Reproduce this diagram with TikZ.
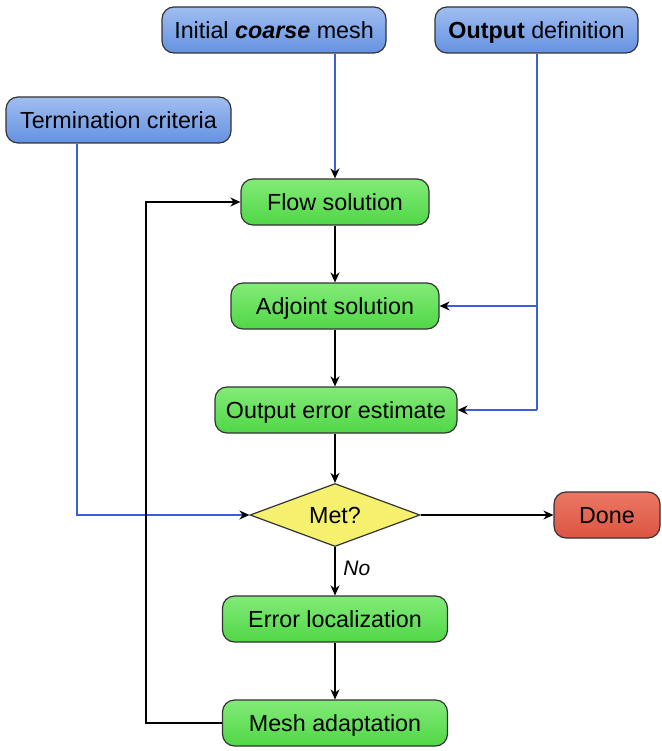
\documentclass[tikz,border=0pt]{standalone}
\usepackage{fontspec}
\setmainfont{Liberation Sans}
\usetikzlibrary{arrows.meta,shapes.geometric}
\definecolor{bluetop}{RGB}{160,190,240}
\definecolor{bluebot}{RGB}{100,145,225}
\definecolor{greentop}{RGB}{130,235,120}
\definecolor{greenbot}{RGB}{80,215,70}
\definecolor{redtop}{RGB}{235,120,100}
\definecolor{redbot}{RGB}{220,85,65}
\definecolor{yelfill}{RGB}{245,240,110}
\definecolor{bline}{RGB}{60,95,215}
\tikzset{
  box/.style={draw=black!80, line width=1.2pt, rounded corners=12pt, minimum height=46pt,
    inner sep=0pt, text height=21pt, text depth=4pt, font=\fontsize{23.3}{27}\selectfont, text=black},
  inbox/.style={box, top color=bluetop, bottom color=bluebot},
  procbox/.style={box, top color=greentop, bottom color=greenbot},
  endbox/.style={box, top color=redtop, bottom color=redbot},
  decbox/.style={diamond, draw=black!80, line width=1.2pt, fill=yelfill, minimum width=170pt,
    minimum height=63pt, inner sep=0pt, aspect=2.7, font=\fontsize{23.3}{27}\selectfont},
  flow/.style={draw=black, line width=2pt, -{Stealth[length=10pt,width=9pt]}},
  bflow/.style={draw=bline, line width=2pt, -{Stealth[length=10pt,width=9pt,color=black]}},
  bline/.style={draw=bline, line width=2pt},
}
\begin{document}
\begin{tikzpicture}[x=1pt,y=-1pt]
\useasboundingbox (0,0) rectangle (661,751);
\node[inbox, minimum width=224pt] (init) at (274,30) {Initial \textbf{\textit{coarse}} mesh};
\node[inbox, minimum width=203pt] (outdef) at (536.5,30) {\textbf{Output} definition};
\node[inbox, minimum width=225pt] (term) at (118.5,120) {Termination criteria};
\node[procbox, minimum width=188pt] (flowsol) at (335,202) {Flow solution};
\node[procbox, minimum width=208pt] (adj) at (335,306) {Adjoint solution};
\node[procbox, minimum width=242pt] (err) at (336,410) {Output error estimate};
\node[decbox] (met) at (335,515) {Met?};
\node[endbox, minimum width=106pt] (done) at (607,515) {Done};
\node[procbox, minimum width=225pt] (loc) at (335,619) {Error localization};
\node[procbox, minimum width=225pt] (adapt) at (335,723) {Mesh adaptation};

\coordinate (c1) at (536.5,306);
\coordinate (c2) at (536.5,410);
\coordinate (t1) at (77,515);
\coordinate (m1) at (146,723);
\coordinate (m2) at (146,202);

\draw[bflow] (init.south -| flowsol.north) -- (flowsol.north);
\draw[bline] (outdef.south) -- (c2);
\draw[bflow] (c1) -- (adj.east);
\draw[bflow] (c2) -- (err.east);
\draw[bflow] (term.south -| t1) -- (t1) -- (met.west);

\draw[flow] (flowsol) -- (adj);
\draw[flow] (adj.south) -- (adj.south |- err.north);
\draw[flow] (err.south -| met.north) -- (met.north);
\draw[flow] (met) -- (done);
\draw[flow] (met) -- node[right, pos=0.45, xshift=4pt, font=\fontsize{21}{25}\selectfont\itshape] {No} (loc);
\draw[flow] (loc) -- (adapt);
\draw[flow] (adapt.west) -- (m1) -- (m2) -- (flowsol.west);
\end{tikzpicture}
\end{document}
